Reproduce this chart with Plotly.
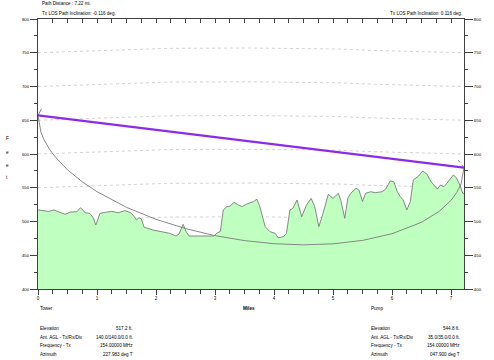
import plotly.graph_objects as go

# ---------------- data ----------------
terrain_mi = [0.0, 0.18, 0.27, 0.35, 0.46, 0.55, 0.66, 0.72, 0.80, 0.88, 0.94, 0.98, 1.02, 1.05,
              1.14, 1.25, 1.36, 1.47, 1.56, 1.61, 1.67, 1.71, 1.75, 1.80, 1.95, 2.11, 2.23, 2.34,
              2.39, 2.46, 2.51, 2.56, 2.98, 3.04, 3.09, 3.14, 3.20, 3.26, 3.32, 3.40, 3.46, 3.54,
              3.65, 3.71, 3.76, 3.85, 3.93, 4.02, 4.07, 4.16, 4.21, 4.27, 4.32, 4.39, 4.47, 4.55,
              4.63, 4.69, 4.76, 4.83, 4.92, 5.00, 5.09, 5.13, 5.20, 5.25, 5.30, 5.39, 5.44, 5.50,
              5.55, 5.64, 5.72, 5.83, 5.89, 5.97, 6.03, 6.09, 6.14, 6.19, 6.25, 6.31, 6.36, 6.45,
              6.52, 6.59, 6.66, 6.71, 6.77, 6.82, 6.88, 6.93, 6.99, 7.04, 7.09, 7.15, 7.20, 7.22]
terrain_ft = [517.2, 515, 517, 514.5, 510.6, 514, 514.5, 520.5, 513, 512, 504.7, 494.8, 504.7, 512,
              513.6, 515, 513, 516, 513.6, 509.6, 502.2, 505.6, 504, 491.4, 487.4, 485, 482.5, 478.5,
              481.5, 495.8, 485, 478.5, 478.5, 483.4, 485, 517, 522, 523, 528.4, 524.4, 522, 526,
              529.4, 533, 522, 492.3, 485, 482.5, 476, 477.5, 482.5, 517, 519.5, 531.9, 507, 524.4,
              534.3, 522, 492.3, 512, 540.3, 534.3, 541.8, 531.9, 504.7, 534.3, 541.8, 549.2, 546.7, 529.4,
              541.8, 544.1, 542.7, 544.1, 547.7, 560, 559, 544.1, 536.7, 531.9, 517, 529.4, 561.5, 567.4,
              574.8, 570.4, 559, 554, 548, 554, 551.6, 556.6, 562.5, 568.9, 565, 554, 541.8, 541]

los_mi = [0.0, 7.22]
los_ft = [657.2, 579.8]

fresnel_mi = [0.0, 0.05, 0.1, 0.2, 0.3, 0.5, 0.75, 1.0, 1.5, 2.0, 2.5, 3.0, 3.5, 4.0, 4.5,
              5.0, 5.5, 6.0, 6.5, 6.8, 7.0, 7.1, 7.17, 7.22]
fresnel_ft = [657.2, 632.1, 621.5, 606.4, 594.9, 576.6, 558.8, 544.2, 520.9, 503.2, 489.5,
              479.0, 471.7, 467.1, 465.4, 466.9, 472.0, 481.9, 498.8, 515.0, 531.3, 543.2, 555.8, 579.8]
upper_left_mi = [0.0, 0.06]
upper_left_ft = [657.2, 667]
upper_right_mi = [7.12, 7.22]
upper_right_ft = [591, 579.8]

grid_levels = [450, 500, 550, 600, 650, 700, 750]
bulge_mi = [0.0, 0.5, 0.8, 1.6, 2.2, 3.6, 5.1, 5.65, 6.45, 6.85, 7.22]
bulge_ft = [0, 1.5, 3, 5, 6.5, 7, 5.5, 3.5, 2, 0.6, 0]

header_left = ["Path Distance : 7.22 mi.", "Tx LOS Path Inclination: -0.116 deg."]
header_right = "Tx LOS Path Inclination: 0.116 deg."
row_labels = ["Elevation", "Ant. AGL - Tx/Rx/Div", "Frequency - Tx", "Azimuth"]
tower_values = ["517.2 ft.", "140.0/140.0/0.0 ft.", "154.00000 MHz", "227.983 deg T"]
pump_values = ["544.8 ft.", "35.0/35.0/0.0 ft.", "154.00000 MHz", "047.900 deg T"]

# ---------------- figure ----------------
FONT = "Liberation Sans"
AX = "#404040"
fig = go.Figure()

for lev in grid_levels:
    fig.add_trace(go.Scatter(x=bulge_mi, y=[lev + b for b in bulge_ft], mode="lines",
                             line=dict(color="#b4b4b4", width=0.6, dash="dot"),
                             hoverinfo="skip", showlegend=False))

fig.add_trace(go.Scatter(x=terrain_mi, y=terrain_ft, mode="lines", fill="tozeroy",
                         fillcolor="#bfffbf", line=dict(color="#7a7a7a", width=0.9),
                         showlegend=False))
fig.add_trace(go.Scatter(x=fresnel_mi, y=fresnel_ft, mode="lines",
                         line=dict(color="#7a7a7a", width=0.9), showlegend=False))
fig.add_trace(go.Scatter(x=upper_left_mi, y=upper_left_ft, mode="lines",
                         line=dict(color="#7a7a7a", width=0.9), showlegend=False))
fig.add_trace(go.Scatter(x=upper_right_mi, y=upper_right_ft, mode="lines",
                         line=dict(color="#7a7a7a", width=0.9, dash="dot"), showlegend=False))
fig.add_trace(go.Scatter(x=los_mi, y=los_ft, mode="lines",
                         line=dict(color="#8c2be6", width=2.2), showlegend=False))
# helper invisible traces for secondary axes
fig.add_trace(go.Scatter(x=[0], y=[400], xaxis="x2", yaxis="y2", mode="markers",
                         marker=dict(opacity=0), hoverinfo="skip", showlegend=False))

fig.update_layout(
    width=494, height=360,
    margin=dict(l=38, r=24, t=19, b=71),
    paper_bgcolor="white", plot_bgcolor="white",
    font=dict(family=FONT, size=5, color="black"),
    xaxis=dict(range=[0, 7.22], tick0=0, dtick=1, ticks="outside", ticklen=5,
               tickcolor=AX, showline=True, linecolor=AX, linewidth=1, mirror=True,
               showgrid=False, zeroline=False, tickfont=dict(size=4.5),
               minor=dict(ticks="outside", ticklen=4, dtick=0.25, tick0=0, tickcolor=AX)),
    xaxis2=dict(range=[0, 7.22], overlaying="x", side="top", tick0=0, dtick=0.25,
                ticks="inside", ticklen=4, tickcolor=AX, showticklabels=False,
                showline=False, showgrid=False, zeroline=False),
    yaxis=dict(range=[400, 800], tick0=400, dtick=50, ticks="outside", ticklen=7,
               tickcolor=AX, showline=True, linecolor=AX, linewidth=1, mirror=True,
               showgrid=False, zeroline=False, tickfont=dict(size=4.3),
               minor=dict(ticks="outside", ticklen=3, dtick=25, tick0=400, tickcolor=AX)),
    yaxis2=dict(range=[400, 800], overlaying="y", side="right", tick0=400, dtick=50,
                ticks="outside", ticklen=8, tickcolor=AX, showline=False, showgrid=False,
                zeroline=False, tickfont=dict(size=4.3),
                minor=dict(ticks="outside", ticklen=3, dtick=25, tick0=400, tickcolor=AX)),
)

def px_x(px):
    return (px - 38) / 432.0

def px_y(py):
    return (289 - py) / 270.0

def note(text, px, py, anchor="left", size=4.6, bold=False):
    if bold:
        text = "<b>" + text + "</b>"
    fig.add_annotation(text=text, x=px_x(px), y=px_y(py), xref="paper", yref="paper",
                       xanchor=anchor, yanchor="middle", showarrow=False,
                       font=dict(family=FONT, size=size, color="black"))

note(header_left[0], 40, 4)
note(header_left[1], 40, 13.3)
note(header_right, 470, 13.3, anchor="right")

for letter, py in zip("Feet", [138, 152, 165, 177]):
    note(letter, 7, py, anchor="center")

note("Miles", 252, 308, anchor="center", bold=True)
note("Tower", 38, 309)
note("Pump", 374, 309)

row_y = [328.3, 337, 345.7, 354]
for lab, tv, pv, py in zip(row_labels, tower_values, pump_values, row_y):
    note(lab, 38, py)
    note(tv, 136, py, anchor="right")
    note(lab, 374, py)
    note(pv, 468, py, anchor="right")

fig.write_html("out.html")
